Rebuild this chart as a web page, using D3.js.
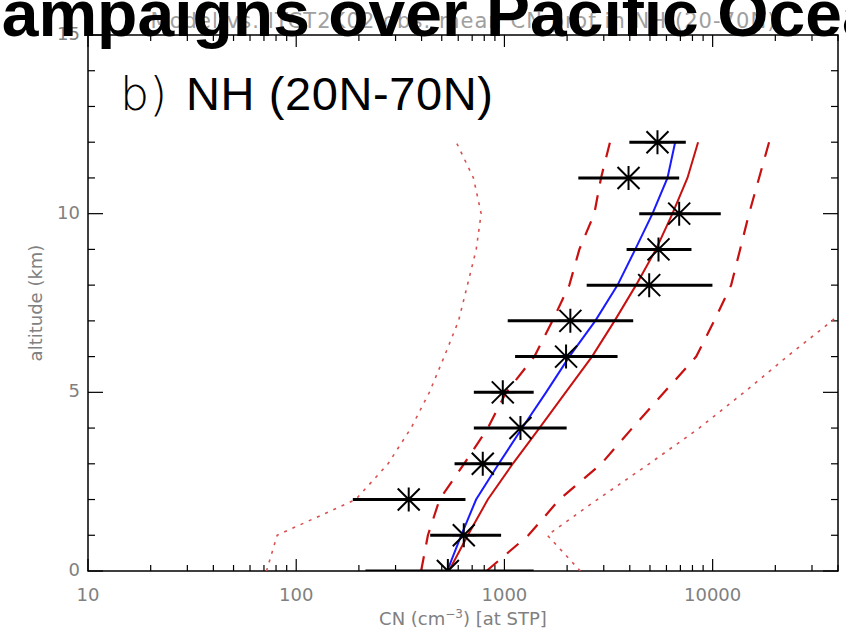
<!DOCTYPE html>
<html>
<head>
<meta charset="utf-8">
<script src="https://cdn.jsdelivr.net/npm/d3@7"></script>
<style>
  body { margin: 0; background: #fff; }
  svg { display: block; }
</style>
</head>
<body>
<div id="chart"></div>
<script>
// Altitude levels (km)
var altitudes = [0, 1, 2, 3, 4, 5, 6, 7, 8, 9, 10, 11, 12];

// Observations: mean CN and its spread (cm-3 at STP)
var obsMean = [535, 638, 347, 787, 1194, 982, 1977, 2073, 4958, 5495, 6907, 3945, 5433];
var obsLow  = [215, 440, 187, 576, 713, 713, 1125, 1037, 2483, 3861, 4440, 2264, 3981];
var obsHigh = [1382, 964, 650, 1089, 1990, 1382, 3494, 4154, 9977, 7912, 10940, 6907, 7432];

// Model profiles
var modelBlue      = [531, 620, 731, 939, 1216, 1585, 2050, 2731, 3494, 4249, 5142, 6069, 6607];
var modelRed       = [541, 667, 832, 1096, 1472, 1968, 2634, 3381, 4285, 5343, 6412, 7568, 8513];
var modelRedLow    = [398, 429, 488, 640, 832, 1019, 1393, 1700, 2050, 2290, 2702, 2910, 3214];
var modelRedHigh   = [820, 1303, 1836, 2919, 4111, 5851, 8337, 10170, 12270, 13550, 14960, 16710, 18670];
var modelRedMin    = [72, 81, 193, 276, 356, 436, 514, 602, 664, 732, 773, 710, 587];
var modelRedMax    = [2315, 1608, 2794, 4958, 8616, 14160, 22770, 37420, 56000];

// Tick labels
var xTickValues = [10, 100, 1000, 10000];
var yTickValues = [0, 5, 10, 15];

var W = 846, H = 635;
var margin = { top: 35, right: 8, bottom: 64, left: 88 },
    width = W - margin.left - margin.right,
    height = H - margin.top - margin.bottom;

var svg = d3.select("#chart").append("svg")
    .attr("width", W)
    .attr("height", H);

var x = d3.scaleLog().domain([10, 40000]).range([0, width]);
var y = d3.scaleLinear().domain([0, 15]).range([height, 0]);

// Background (IDL) title, mostly hidden by the big one
svg.append("text")
    .attr("x", margin.left + width / 2)
    .attr("y", 28)
    .attr("text-anchor", "middle")
    .attr("textLength", 625)
    .style("font-family", "DejaVu Sans, sans-serif")
    .style("font-size", "21px")
    .style("fill", "#a0a0a0")
    .text("Model vs. ITCT2K02 obs. mean CN prof in NH (20-70N)");

var g = svg.append("g")
    .attr("transform", "translate(" + margin.left + "," + margin.top + ")");

g.append("clipPath").attr("id", "plot-clip")
    .append("rect")
    .attr("width", width)
    .attr("height", height);

// Ticks on all four sides
var minorX = [];
[10, 100, 1000, 10000].forEach(function (d) {
    for (var k = 2; k <= 9; k++) if (d * k <= 40000) minorX.push(d * k);
});
var ticksG = g.append("g").attr("stroke", "#000").attr("stroke-width", 1.2);
function tickLines(vals, len, isX) {
    vals.forEach(function (v) {
        if (isX) {
            ticksG.append("line").attr("x1", x(v)).attr("x2", x(v)).attr("y1", height).attr("y2", height - len);
            ticksG.append("line").attr("x1", x(v)).attr("x2", x(v)).attr("y1", 0).attr("y2", len);
        } else {
            ticksG.append("line").attr("y1", y(v)).attr("y2", y(v)).attr("x1", 0).attr("x2", len);
            ticksG.append("line").attr("y1", y(v)).attr("y2", y(v)).attr("x1", width).attr("x2", width - len);
        }
    });
}
tickLines(xTickValues, 12, true);
tickLines(minorX, 6, true);
tickLines(yTickValues, 15, false);
tickLines(d3.range(0, 16).filter(function (d) { return d % 5 !== 0; }), 7, false);

// Frame
g.append("rect")
    .attr("width", width)
    .attr("height", height)
    .attr("fill", "none")
    .attr("stroke", "#000")
    .attr("stroke-width", 1.5);

// Tick labels
var labelStyle = function (sel) {
    sel.style("font-family", "DejaVu Sans, sans-serif")
        .style("font-size", "18px")
        .style("fill", "#808080");
};
g.selectAll(".xlab").data(xTickValues).enter().append("text")
    .attr("class", "xlab")
    .attr("x", function (d) { return x(d); })
    .attr("y", height + 30)
    .attr("text-anchor", "middle")
    .call(labelStyle)
    .text(function (d) { return d; });
g.selectAll(".ylab").data(yTickValues).enter().append("text")
    .attr("class", "ylab")
    .attr("x", -8)
    .attr("y", function (d) { return y(d) + 5; })
    .attr("text-anchor", "end")
    .call(labelStyle)
    .text(function (d) { return d; });

// Axis titles
var xt = g.append("text")
    .attr("x", width / 2)
    .attr("y", height + 54)
    .attr("text-anchor", "middle")
    .call(labelStyle);
xt.append("tspan").text("CN (cm");
xt.append("tspan").attr("dy", -7).style("font-size", "12px").text("\u22123");
xt.append("tspan").attr("dy", 7).text(") [at STP]");

g.append("text")
    .attr("transform", "translate(-46," + (height / 2) + ") rotate(-90)")
    .attr("text-anchor", "middle")
    .call(labelStyle)
    .text("altitude (km)");

// Model lines
var plot = g.append("g").attr("clip-path", "url(#plot-clip)");
function profile(vals) {
    return d3.line()
        .x(function (d) { return x(d); })
        .y(function (d, i) { return y(altitudes[i]); })(vals);
}
var red = "#c81010";
plot.append("path").attr("d", profile(modelRedMin))
    .attr("fill", "none").attr("stroke", "#d85050").attr("stroke-width", 1.6)
    .attr("stroke-dasharray", "3,6");
plot.append("path").attr("d", profile(modelRedMax))
    .attr("fill", "none").attr("stroke", "#d85050").attr("stroke-width", 1.6)
    .attr("stroke-dasharray", "3,6");
plot.append("path").attr("d", profile(modelRedLow))
    .attr("fill", "none").attr("stroke", red).attr("stroke-width", 2.2)
    .attr("stroke-dasharray", "15,12");
plot.append("path").attr("d", profile(modelRedHigh))
    .attr("fill", "none").attr("stroke", red).attr("stroke-width", 2.2)
    .attr("stroke-dasharray", "15,12");
plot.append("path").attr("d", profile(modelRed))
    .attr("fill", "none").attr("stroke", red).attr("stroke-width", 2);
plot.append("path").attr("d", profile(modelBlue))
    .attr("fill", "none").attr("stroke", "#1a1aff").attr("stroke-width", 2);

// Observations: error bars and asterisks
var obs = altitudes.map(function (a, i) {
    return { alt: a, mean: obsMean[i], lo: obsLow[i], hi: obsHigh[i] };
});
plot.selectAll(".err").data(obs).enter().append("line")
    .attr("class", "err")
    .attr("x1", function (d) { return x(d.lo); })
    .attr("x2", function (d) { return x(d.hi); })
    .attr("y1", function (d) { return y(d.alt); })
    .attr("y2", function (d) { return y(d.alt); })
    .attr("stroke", "#000")
    .attr("stroke-width", 3);
var r = 12, rd = 11;
var star = "M0," + (-r) + "V" + r + "M" + (-r) + ",0H" + r +
    "M" + (-rd) + "," + (-rd) + "L" + rd + "," + rd +
    "M" + (-rd) + "," + rd + "L" + rd + "," + (-rd);
plot.selectAll(".star").data(obs).enter().append("path")
    .attr("class", "star")
    .attr("transform", function (d) { return "translate(" + x(d.mean) + "," + y(d.alt) + ")"; })
    .attr("d", star)
    .attr("fill", "none")
    .attr("stroke", "#000")
    .attr("stroke-width", 2);

// Panel label
svg.append("text")
    .attr("x", 120)
    .attr("y", 110)
    .style("font-family", "DejaVu Sans, sans-serif")
    .style("font-weight", "300")
    .style("font-size", "46px")
    .style("fill", "#000")
    .text("b)");
svg.append("text")
    .attr("x", 186)
    .attr("y", 110)
    .attr("textLength", 307)
    .style("font-family", "Liberation Sans, Arial, sans-serif")
    .style("font-size", "47px")
    .style("fill", "#000")
    .text("NH (20N-70N)");

// Big overlapping title (cropped at both sides)
svg.append("text")
    .attr("x", -46)
    .attr("y", 36)
    .attr("textLength", 965)
    .attr("lengthAdjust", "spacingAndGlyphs")
    .style("font-family", "Liberation Sans, Arial, sans-serif")
    .style("font-weight", "bold")
    .style("font-size", "64px")
    .style("fill", "#000")
    .text("Campaigns over Pacific Ocean");
</script>
</body>
</html>
